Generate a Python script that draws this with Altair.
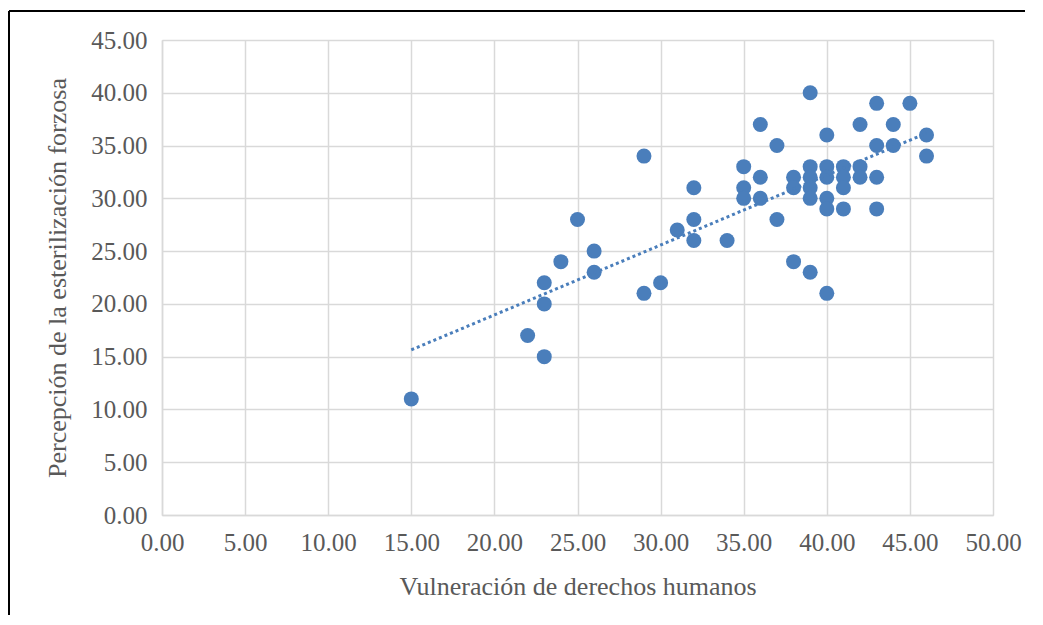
import altair as alt
import pandas as pd

vulneracion = [15, 22, 23, 23, 23, 24, 25, 26, 26, 29, 29, 30, 31, 32, 32, 32, 34,
               35, 35, 35, 36, 36, 36, 37, 37, 38, 38, 38,
               39, 39, 39, 39, 39, 39, 40, 40, 40, 40, 40, 40,
               41, 41, 41, 41, 42, 42, 42, 43, 43, 43, 43, 44, 44, 45, 46, 46]
percepcion = [11, 17, 15, 20, 22, 24, 28, 25, 23, 34, 21, 22, 27, 31, 28, 26, 26,
              33, 31, 30, 37, 32, 30, 35, 28, 32, 31, 24,
              40, 33, 32, 31, 30, 23, 36, 33, 32, 30, 29, 21,
              33, 32, 31, 29, 37, 33, 32, 39, 35, 32, 29, 37, 35, 39, 36, 34]

x_title = "Vulneración de derechos humanos"
y_title = "Percepción de la esterilización forzosa"

df = pd.DataFrame({"x": vulneracion, "y": percepcion})

FONT = "Liberation Serif"
BLUE = "#4a7ebb"
GRAY = "#595959"

xs = alt.Scale(domain=[0, 50], nice=False)
ys = alt.Scale(domain=[0, 45], nice=False)

xax = alt.Axis(title=x_title, values=list(range(0, 51, 5)), format=".2f",
               grid=True, gridColor="#d9d9d9", gridWidth=1.5, domain=True,
               domainColor="#d9d9d9", domainWidth=1.5, ticks=False, labelPadding=15,
               labelFontSize=25, labelColor=GRAY, labelFont=FONT,
               titleFont=FONT, titleFontSize=26, titleColor=GRAY,
               titleFontWeight="normal", titlePadding=18, labelFlush=False)
yax = alt.Axis(title=y_title, values=list(range(0, 46, 5)), format=".2f",
               grid=True, gridColor="#d9d9d9", gridWidth=1.5, domain=True,
               domainColor="#d9d9d9", domainWidth=1.5, ticks=False, labelPadding=15,
               labelFontSize=25, labelColor=GRAY, labelFont=FONT,
               titleFont=FONT, titleFontSize=26, titleColor=GRAY,
               titleFontWeight="normal", titlePadding=20, labelFlush=False)

base = alt.Chart(df)

points = base.mark_circle(size=225, color=BLUE, opacity=1).encode(
    x=alt.X("x:Q", scale=xs, axis=xax),
    y=alt.Y("y:Q", scale=ys, axis=yax),
)

trend = base.transform_regression("x", "y", extent=[15, 46]).mark_line(
    color=BLUE, strokeWidth=3, strokeDash=[3, 3]
).encode(x=alt.X("x:Q", scale=xs), y=alt.Y("y:Q", scale=ys))

frame = alt.Chart(pd.DataFrame({"a": [0]})).mark_rule(color="black", strokeWidth=2).encode(
    x=alt.value(-153), x2=alt.value(900), y=alt.value(-29)
)
frame2 = alt.Chart(pd.DataFrame({"a": [0]})).mark_rule(color="black", strokeWidth=2).encode(
    x=alt.value(-153), y=alt.value(-29), y2=alt.value(700)
)

chart = alt.layer(points, trend, frame, frame2).properties(
    width=831, height=475,
    padding={"left": 154, "top": 32, "right": 32, "bottom": 100},
    autosize=alt.AutoSizeParams(type="none"),
).configure_view(stroke=None).configure(background="white")

chart.save("out.html", embed_options={"renderer": "svg", "actions": False})
